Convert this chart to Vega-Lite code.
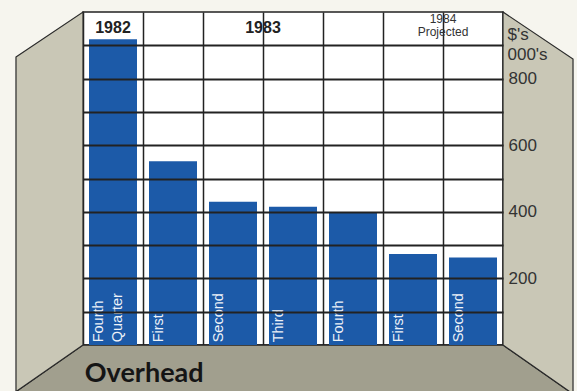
{
  "$schema": "https://vega.github.io/schema/vega-lite/v6.json",
  "width": 420,
  "height": 333,
  "autosize": {"type": "none"},
  "padding": {"left": 83, "top": 12, "right": 74, "bottom": 46},
  "background": "#f6f5ee",
  "config": {
    "view": {"stroke": "#222222", "strokeWidth": 1.5, "fill": "#ffffff"},
    "font": "Liberation Sans"
  },
  "datasets": {
    "quarters": [
      {"period": "1982 Q4", "label": "Fourth\nQuarter", "value": 918},
      {"period": "1983 Q1", "label": "First", "value": 552},
      {"period": "1983 Q2", "label": "Second", "value": 430},
      {"period": "1983 Q3", "label": "Third", "value": 415},
      {"period": "1983 Q4", "label": "Fourth", "value": 399},
      {"period": "1984 Q1", "label": "First", "value": 273},
      {"period": "1984 Q2", "label": "Second", "value": 263}
    ],
    "leftWall": [
      {"x": -1.117, "top": 865, "bottom": -140},
      {"x": 0, "top": 1000, "bottom": 0}
    ],
    "rightWall": [
      {"x": 7, "top": 1000, "bottom": 0},
      {"x": 8.167, "top": 859, "bottom": -147}
    ],
    "floor": [
      {"x": -1.117, "top": -140, "bottom": -180},
      {"x": 0, "top": 0, "bottom": -180},
      {"x": 7, "top": 0, "bottom": -180},
      {"x": 8.167, "top": -147, "bottom": -180}
    ]
  },
  "layer": [
    {
      "layer": [
        {
          "data": {"name": "floor"},
          "mark": {"type": "area", "orient": "vertical", "fill": "#a19f8e", "stroke": "#222222", "strokeWidth": 1.3, "opacity": 1, "fillOpacity": 1},
          "encoding": {
            "x": {"field": "x", "type": "quantitative", "scale": {"domain": [0, 7], "nice": false, "zero": false}, "axis": null},
            "y": {"field": "top", "type": "quantitative", "scale": {"domain": [0, 1000], "nice": false, "zero": false}, "axis": null},
            "y2": {"field": "bottom"}
          }
        },
        {
          "data": {"name": "leftWall"},
          "mark": {"type": "area", "orient": "vertical", "fill": "#c9c7b6", "stroke": "#2a2a2a", "strokeWidth": 1.2, "opacity": 1, "fillOpacity": 1},
          "encoding": {
            "x": {"field": "x", "type": "quantitative", "scale": {"domain": [0, 7], "nice": false, "zero": false}, "axis": null},
            "y": {"field": "top", "type": "quantitative", "scale": {"domain": [0, 1000], "nice": false, "zero": false}, "axis": null},
            "y2": {"field": "bottom"}
          }
        },
        {
          "data": {"name": "rightWall"},
          "mark": {"type": "area", "orient": "vertical", "fill": "#c9c7b6", "stroke": "#2a2a2a", "strokeWidth": 1.2, "opacity": 1, "fillOpacity": 1},
          "encoding": {
            "x": {"field": "x", "type": "quantitative", "scale": {"domain": [0, 7], "nice": false, "zero": false}, "axis": null},
            "y": {"field": "top", "type": "quantitative", "scale": {"domain": [0, 1000], "nice": false, "zero": false}, "axis": null},
            "y2": {"field": "bottom"}
          }
        },
        {
          "data": {"values": [{}]},
          "mark": {"type": "text", "align": "left", "baseline": "alphabetic", "fontSize": 27, "fontWeight": "bold", "font": "Lato", "color": "#151515"},
          "encoding": {
            "x": {"datum": 0.03, "type": "quantitative", "scale": {"domain": [0, 7], "nice": false, "zero": false}, "axis": null},
            "y": {"datum": -111, "type": "quantitative", "scale": {"domain": [0, 1000], "nice": false, "zero": false}, "axis": null},
            "text": {"value": "Overhead"}
          }
        }
      ]
    },
    {
      "layer": [
        {
          "data": {"name": "quarters"},
          "mark": {"type": "bar", "width": {"band": 0.8}, "color": "#1c5aa8"},
          "encoding": {
            "x": {
              "field": "period", "type": "nominal",
              "scale": {"domain": ["1982 Q4", "1983 Q1", "1983 Q2", "1983 Q3", "1983 Q4", "1984 Q1", "1984 Q2"], "paddingInner": 0, "paddingOuter": 0},
              "axis": {"orient": "top", "labels": false, "ticks": false, "domain": false, "grid": true, "gridColor": "#222222", "gridWidth": 1.5, "tickBand": "extent", "title": null}
            },
            "y": {
              "field": "value", "type": "quantitative",
              "scale": {"domain": [0, 1000], "nice": false, "zero": false},
              "axis": {
                "orient": "right",
                "values": [100, 200, 300, 400, 500, 600, 700, 800, 900],
                "grid": true, "gridColor": "#222222", "gridWidth": 1.8,
                "domain": false, "ticks": false,
                "labelExpr": "datum.value % 200 == 0 ? datum.label : ''",
                "labelFontSize": 17, "labelColor": "#333333", "labelPadding": 5, "labelFont": "Liberation Sans",
                "title": ["$'s", "000's"],
                "titleAngle": 0, "titleAlign": "left", "titleBaseline": "top",
                "titleX": 4, "titleY": 14,
                "titleFontSize": 17, "titleFontWeight": "normal", "titleColor": "#333333", "titleFont": "Liberation Sans",
                "titleLineHeight": 20,
                "zindex": 1
              }
            }
          }
        },
        {
          "data": {"name": "quarters"},
          "mark": {"type": "text", "angle": 270, "align": "left", "baseline": "top", "fontSize": 14.5, "color": "#eef2f8", "lineBreak": "\n", "lineHeight": 19},
          "encoding": {
            "x": {"field": "period", "type": "nominal", "bandPosition": 0.15,
              "scale": {"domain": ["1982 Q4", "1983 Q1", "1983 Q2", "1983 Q3", "1983 Q4", "1984 Q1", "1984 Q2"], "paddingInner": 0, "paddingOuter": 0}},
            "y": {"datum": 8, "type": "quantitative"},
            "text": {"field": "label"}
          }
        },
        {
          "data": {"values": [{}]},
          "mark": {"type": "text", "align": "center", "baseline": "middle", "fontSize": 16, "fontWeight": "bold", "color": "#222222"},
          "encoding": {
            "x": {"datum": "1982 Q4", "type": "nominal", "bandPosition": 0.5,
              "scale": {"domain": ["1982 Q4", "1983 Q1", "1983 Q2", "1983 Q3", "1983 Q4", "1984 Q1", "1984 Q2"], "paddingInner": 0, "paddingOuter": 0}},
            "y": {"datum": 952, "type": "quantitative"},
            "text": {"value": "1982"}
          }
        },
        {
          "data": {"values": [{}]},
          "mark": {"type": "text", "align": "center", "baseline": "middle", "fontSize": 16, "fontWeight": "bold", "color": "#222222"},
          "encoding": {
            "x": {"datum": "1983 Q3", "type": "nominal", "bandPosition": 0,
              "scale": {"domain": ["1982 Q4", "1983 Q1", "1983 Q2", "1983 Q3", "1983 Q4", "1984 Q1", "1984 Q2"], "paddingInner": 0, "paddingOuter": 0}},
            "y": {"datum": 952, "type": "quantitative"},
            "text": {"value": "1983"}
          }
        },
        {
          "data": {"values": [{}]},
          "mark": {"type": "text", "align": "center", "baseline": "alphabetic", "fontSize": 12, "color": "#333333", "lineBreak": "\n", "lineHeight": 13},
          "encoding": {
            "x": {"datum": "1984 Q2", "type": "nominal", "bandPosition": 0,
              "scale": {"domain": ["1982 Q4", "1983 Q1", "1983 Q2", "1983 Q3", "1983 Q4", "1984 Q1", "1984 Q2"], "paddingInner": 0, "paddingOuter": 0}},
            "y": {"datum": 967, "type": "quantitative"},
            "text": {"value": "1984\nProjected"}
          }
        }
      ]
    }
  ],
  "resolve": {"scale": {"x": "independent", "y": "independent"}}
}
